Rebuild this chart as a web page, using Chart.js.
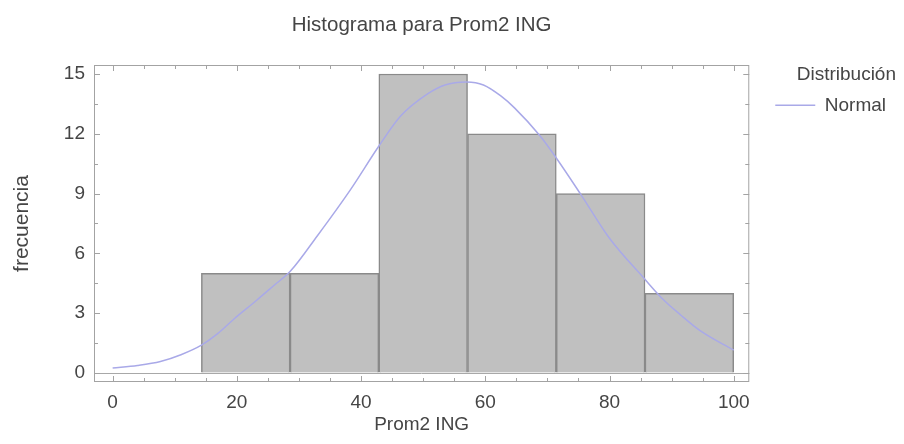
<!DOCTYPE html>
<html>
<head>
<meta charset="utf-8">
<title>Histograma para Prom2 ING</title>
<script src="https://cdn.jsdelivr.net/npm/chart.js@4.4.1/dist/chart.umd.min.js"></script>
<style>
	html, body { margin: 0; padding: 0; background: #fff; }
	#wrap { width: 904px; height: 444px; position: relative; }
</style>
</head>
<body>
<div id="wrap"><canvas id="chart"></canvas></div>
<script>
// bin edges of the histogram (Prom2 ING)
const binEdges = [0, 14.29, 28.57, 42.86, 57.14, 71.43, 85.71, 100];
// counts per bin
const binCounts = [0, 5, 5, 15, 12, 9, 4];

// fitted normal curve, scaled to frequency
const normalX = [0, 4, 7.7, 11, 14.3, 17, 19.5, 23, 26, 28.6, 33, 38.3, 42.9, 46.4, 50.7, 53.5, 57, 59.7, 62.5, 64.7, 68.8, 71.4, 75.5, 79.9, 85.7, 88.6, 91.5, 94.7, 100];
const normalY = [0.25, 0.38, 0.58, 0.92, 1.4, 2.0, 2.7, 3.6, 4.4, 5.1, 6.9, 9.2, 11.4, 12.9, 14.0, 14.45, 14.6, 14.45, 13.9, 13.3, 11.9, 10.8, 8.9, 6.8, 4.7, 3.7, 2.9, 2.1, 1.15];

const xTicks = [0, 20, 40, 60, 80, 100];
const yTicks = [0, 3, 6, 9, 12, 15];

const FONT = 'Liberation Sans, Arial, sans-serif';
const TEXT = '#454545';
const FRAME = '#a3a3a3';

// frame round the plot with small inward ticks on all four sides
const framePlugin = {
	id: 'frame',
	afterDatasetsDraw(chart) {
		const {ctx, chartArea: a, scales} = chart;
		ctx.save();
		ctx.strokeStyle = FRAME;
		ctx.lineWidth = 1;
		ctx.strokeRect(a.left + 0.5, a.top + 0.5, a.right - a.left - 1, a.bottom - a.top - 1);
		ctx.beginPath();
		for (let v = 0; v <= 100; v += 5) {
			const x = Math.round(scales.x.getPixelForValue(v)) + 0.5;
			const len = v % 20 === 0 ? 6 : 4;
			ctx.moveTo(x, a.bottom); ctx.lineTo(x, a.bottom - len);
			ctx.moveTo(x, a.top); ctx.lineTo(x, a.top + len);
		}
		for (let v = 0; v <= 15; v += 1.5) {
			const y = Math.round(scales.y.getPixelForValue(v)) + 0.5;
			const len = v % 3 === 0 ? 6 : 4;
			ctx.moveTo(a.left, y); ctx.lineTo(a.left + len, y);
			ctx.moveTo(a.right, y); ctx.lineTo(a.right - len, y);
		}
		ctx.stroke();
		ctx.restore();
	}
};

const bars = binCounts.map((c, i) => ({
	x: (binEdges[i] + binEdges[i + 1]) / 2,
	y: c
}));
const curve = normalX.map((x, i) => ({x, y: normalY[i]}));

new Chart(document.getElementById('chart'), {
	type: 'bar',
	data: {
		datasets: [
			{
				label: 'frecuencia',
				data: bars,
				order: 2,
				backgroundColor: '#c0c0c0',
				borderColor: '#8a8a8a',
				borderWidth: 1.5,
				barPercentage: 1,
				categoryPercentage: 1
			},
			{
				type: 'line',
				label: 'Normal',
				data: curve,
				order: 1,
				borderColor: '#a9a9e8',
				backgroundColor: '#a9a9e8',
				borderWidth: 1.5,
				pointRadius: 0,
				cubicInterpolationMode: 'monotone',
				fill: false
			}
		]
	},
	options: {
		responsive: true,
		maintainAspectRatio: false,
		animation: false,
		layout: {padding: {left: 0, right: 8, top: 0, bottom: 0}},
		plugins: {
			title: {
				display: true,
				text: 'Histograma para Prom2 ING',
				fullSize: false,
				color: TEXT,
				font: {family: FONT, size: 20.5, weight: 'normal'},
				padding: {top: 13, bottom: 27.4}
			},
			legend: {
				position: 'right',
				align: 'start',
				fullSize: false,
				title: {
					display: true,
					text: 'Distribución',
					position: 'end',
					color: TEXT,
					font: {family: FONT, size: 19},
					padding: {top: 0, bottom: 0}
				},
				labels: {
					filter: item => item.text === 'Normal',
					usePointStyle: true,
					pointStyle: 'line',
					pointStyleWidth: 40,
					color: TEXT,
					font: {family: FONT, size: 19},
					padding: 8
				}
			},
			tooltip: {enabled: false}
		},
		scales: {
			x: {
				type: 'linear',
				min: -3,
				max: 102.5,
				offset: false,
				afterBuildTicks: s => { s.ticks = xTicks.map(v => ({value: v})); },
				afterFit: s => { s.height = 62; },
				grid: {display: false, drawTicks: false},
				border: {display: false},
				ticks: {color: TEXT, font: {family: FONT, size: 19}, padding: 9, maxRotation: 0},
				title: {
					display: true,
					text: 'Prom2 ING',
					color: TEXT,
					font: {family: FONT, size: 19},
					padding: {top: 0, bottom: 7.6}
				}
			},
			y: {
				min: -0.45,
				max: 15.45,
				afterBuildTicks: s => { s.ticks = yTicks.map(v => ({value: v})); },
				afterFit: s => { s.width = 94; },
				grid: {
					drawTicks: false,
					color: c => (c.tick && c.tick.value === 0 ? '#a8a8a8' : 'rgba(0,0,0,0)')
				},
				border: {display: false},
				ticks: {color: TEXT, font: {family: FONT, size: 19}, padding: 9},
				title: {
					display: true,
					text: 'frecuencia',
					color: TEXT,
					font: {family: FONT, size: 21},
					padding: {top: 9.4, bottom: 0}
				}
			},
			// empty right axis, only keeps a gap between plot and legend
			gap: {
				type: 'linear',
				position: 'right',
				display: true,
				afterFit: s => { s.width = 18; },
				grid: {display: false, drawTicks: false},
				border: {display: false},
				ticks: {display: false}
			}
		}
	},
	plugins: [framePlugin]
});
</script>
</body>
</html>
